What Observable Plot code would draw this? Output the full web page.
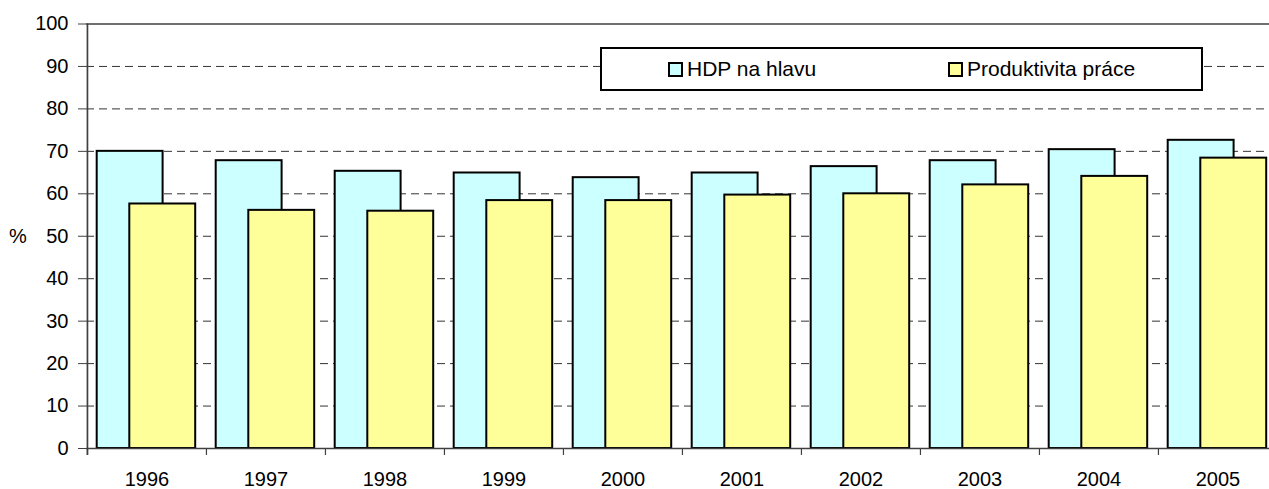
<!DOCTYPE html>
<html>
<head>
<meta charset="utf-8">
<script src="https://cdn.jsdelivr.net/npm/d3@7"></script>
<script src="https://cdn.jsdelivr.net/npm/@observablehq/plot@0.6"></script>
<style>
  html, body { margin: 0; padding: 0; overflow: hidden; background: #fff; }
  #wrap { position: relative; width: 1269px; height: 489px; font-family: "Liberation Sans", Arial, sans-serif; }
  #legend { position: absolute; left: 600px; top: 47px; width: 603px; height: 44px; box-sizing: border-box;
            border: 2px solid #000; background: #fff; }
  .item { position: absolute; top: 0; height: 40px; display: flex; align-items: center; font-size: 21px; color: #000; }
  .sw { width: 15px; height: 15px; box-sizing: border-box; border: 2px solid #000; margin-right: 4px; }
</style>
</head>
<body>
<div id="wrap">
  <div id="chart"></div>
  <div id="legend"></div>
</div>
<script>
const years = ["1996","1997","1998","1999","2000","2001","2002","2003","2004","2005"];
const hdpNaHlavu = [70.0, 67.8, 65.3, 64.9, 63.8, 64.9, 66.4, 67.8, 70.4, 72.6];
const produktivitaPrace = [57.6, 56.1, 55.9, 58.4, 58.4, 59.7, 60.0, 62.1, 64.1, 68.4];
const seriesNames = ["HDP na hlavu", "Produktivita práce"];
const seriesColors = ["#CCFFFF", "#FFFF99"];
const yTicks = [0, 10, 20, 30, 40, 50, 60, 70, 80, 90, 100];
const gridTicks = [10, 20, 30, 40, 50, 60, 70, 80, 90];

const hdpData = years.map((y, i) => ({year: y, value: hdpNaHlavu[i]}));
const prodData = years.map((y, i) => ({year: y, value: produktivitaPrace[i]}));

const X0 = 86, X1 = 1277;
const BW = (X1 - X0) / years.length;

const chart = Plot.plot({
  width: 1269,
  height: 489,
  marginLeft: 86,
  marginRight: 0,
  marginTop: 23.5,
  marginBottom: 41,
  style: {fontFamily: "'Liberation Sans', Arial, sans-serif", fontSize: "20px", color: "#000", overflow: "hidden", background: "#fff"},
  x: {type: "band", domain: years, range: [X0, X1], padding: 0, label: null},
  y: {domain: [0, 100], range: [448, 23.5], label: null},
  marks: [
    Plot.ruleY(gridTicks, {stroke: "#333", strokeWidth: 1, strokeDasharray: "8,5"}),
    Plot.barY(hdpData, {x: "year", y: "value", fill: seriesColors[0], stroke: "#000", strokeWidth: 2, insetLeft: 9.7, insetRight: 43.4}),
    Plot.barY(prodData, {x: "year", y: "value", fill: seriesColors[1], stroke: "#000", strokeWidth: 2, insetLeft: 42.3, insetRight: 10.8}),
    Plot.ruleY([100], {stroke: "#404040", strokeWidth: 1.7}),
    Plot.ruleY([0], {stroke: "#404040", strokeWidth: 1.5}),
    Plot.ruleX([years[0]], {y1: -1.65, y2: 100, dx: -BW / 2, stroke: "#404040", strokeWidth: 1.7}),
    Plot.ruleX(years, {y1: -1.65, y2: 0, dx: -BW / 2, stroke: "#404040", strokeWidth: 1.2}),
    Plot.axisY({ticks: yTicks, tickSize: 8, tickPadding: 10, stroke: "#404040", fontSize: 20}),
    Plot.axisX({tickSize: 0, tickPadding: 23, fontSize: 20}),
    Plot.text(["%"], {text: d => d, frameAnchor: "left", dx: -68.5, textAnchor: "middle", fontSize: 20})
  ]
});
document.getElementById("chart").appendChild(chart);

const legend = document.getElementById("legend");
const itemLefts = [66, 346];
seriesNames.forEach((name, i) => {
  const it = document.createElement("div");
  it.className = "item";
  it.style.left = itemLefts[i] + "px";
  const sw = document.createElement("div");
  sw.className = "sw";
  sw.style.background = seriesColors[i];
  const tx = document.createElement("span");
  tx.textContent = name;
  it.appendChild(sw);
  it.appendChild(tx);
  legend.appendChild(it);
});
</script>
</body>
</html>
